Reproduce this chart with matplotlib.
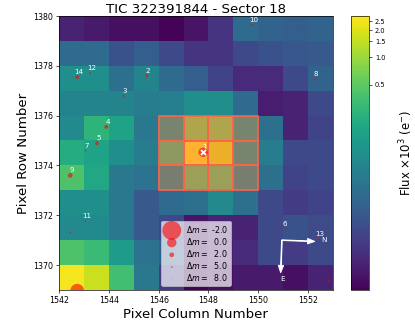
import numpy as np
import matplotlib
matplotlib.use("Agg")
import matplotlib.pyplot as plt
from matplotlib.colors import FuncNorm
from matplotlib.patches import Rectangle

# pixel flux (x10^3 e-), rows 1379 (top) .. 1369 (bottom), columns 1542 .. 1552
flux = np.array([
    [0.0028, 0.0018, 0.0009, 0.0009, 0.0002, 0.0012, 0.0052, 0.0291, 0.0231, 0.0198, 0.0231],
    [0.0291, 0.0291, 0.0132, 0.0198, 0.0102, 0.0052, 0.0052, 0.0102, 0.0132, 0.0156, 0.0169],
    [0.0873, 0.0873, 0.0339, 0.0610, 0.0291, 0.0198, 0.0085, 0.0037, 0.0037, 0.0102, 0.0231],
    [0.0610, 0.0610, 0.0610, 0.0490, 0.0527, 0.0873, 0.0873, 0.0291, 0.0021, 0.0028, 0.0102],
    [0.0756, 0.2510, 0.1540, 0.0423, 0.1250, 0.7130, 0.7130, 0.1250, 0.0339, 0.0028, 0.0085],
    [0.2040, 0.1540, 0.0873, 0.0490, 0.3540, 2.8500, 2.0100, 0.1250, 0.0490, 0.0102, 0.0102],
    [0.4090, 0.1770, 0.0423, 0.0365, 0.0873, 0.5040, 0.5040, 0.0873, 0.0339, 0.0085, 0.0102],
    [0.0873, 0.0873, 0.0423, 0.0169, 0.0291, 0.0339, 0.0704, 0.0339, 0.0102, 0.0070, 0.0085],
    [0.0756, 0.0756, 0.0423, 0.0169, 0.0102, 0.0012, 0.0028, 0.0028, 0.0102, 0.0132, 0.0111],
    [0.4090, 0.3100, 0.1250, 0.0365, 0.0198, 0.0007, 0.0021, 0.0037, 0.0102, 0.0070, 0.0102],
    [2.6000, 1.6360, 0.3540, 0.0423, 0.0070, 0.0002, 0.0007, 0.0018, 0.0018, 0.0009, 0.0028],
])
col_min, col_max = 1542, 1553
row_min, row_max = 1369, 1380

# aperture pixels
ap_cols = [1546, 1547, 1548, 1549]
ap_rows = [1373, 1374, 1375]

# Gaia sources: position, magnitude difference to target, label
star_col = [1547.79, 1545.52, 1544.58, 1543.89, 1543.52, 1551.03, 1543.05, 1552.28, 1542.44,
            1549.77, 1543.05, 1543.24, 1552.44, 1542.72, 1542.44, 1551.59, 1552.84, 1542.72]
star_row = [1374.53, 1377.60, 1376.80, 1375.55, 1374.89, 1371.45, 1374.59, 1377.46, 1373.60,
            1379.65, 1371.77, 1377.70, 1371.05, 1377.55, 1371.30, 1379.51, 1369.37, 1368.97]
star_dm = [0.0, 3.2, 4.0, 2.5, 2.7, 4.5, 5.0, 4.5, 2.0,
           4.5, 5.0, 4.5, 5.0, 2.5, 4.5, 5.0, 5.0, -1.1]
star_label = ['1', '2', '3', '4', '5', '6', '7', '8', '9',
              '10', '11', '12', '13', '14', '', '', '', '']

legend_dm = [-2.0, 0.0, 2.0, 5.0, 8.0]
cbar_ticks = [0.5, 1.0, 1.5, 2.0, 2.5]
x_ticks = [1542, 1544, 1546, 1548, 1550, 1552]
y_ticks = [1370, 1372, 1374, 1376, 1378, 1380]

vmax = 2.85
norm = FuncNorm((lambda v: np.log10(1000 * v / vmax + 1),
                 lambda y: (10 ** y - 1) * vmax / 1000), vmin=0, vmax=vmax)

fig = plt.figure(figsize=(415 / 60, 330 / 60), dpi=60)
ax = fig.add_axes([59.3 / 415, 40 / 330, 273.3 / 415, 274 / 330])
cax = fig.add_axes([351 / 415, 40 / 330, 18 / 415, 274 / 330])

im = ax.imshow(flux, cmap='viridis', norm=norm, origin='upper', aspect='auto',
               extent=[col_min, col_max, row_min, row_max], interpolation='nearest')

for c in ap_cols:
    for r in ap_rows:
        ax.add_patch(Rectangle((c, r), 1, 1, color='tomato', fill=True, alpha=0.4, lw=0))
        ax.add_patch(Rectangle((c, r), 1, 1, edgecolor='tomato', fill=False, lw=2))

sizes = [128.0 / 2 ** dm for dm in star_dm]
ax.scatter(star_col, star_row, s=sizes, c='red', alpha=0.6, edgecolors='none', zorder=10)
ax.scatter(star_col[0], star_row[0], marker='x', c='white', s=36, linewidths=2.2, zorder=12)
for x, y, lab in zip(star_col, star_row, star_label):
    ax.text(x + 0.05, y + 0.08, lab, color='white', fontsize=8.5, ha='center', va='bottom', zorder=9)

# compass
ox, oy = 1550.96, 1371.0
ax.arrow(ox, oy, 1.33, -0.05, color='white', width=0.03, head_width=0.22, head_length=0.3,
         length_includes_head=True, zorder=11)
ax.arrow(ox, oy, -0.05, -1.31, color='white', width=0.03, head_width=0.22, head_length=0.3,
         length_includes_head=True, zorder=11)
ax.text(ox + 1.7, oy, 'N', color='white', fontsize=8.5, ha='center', va='center', zorder=11)
ax.text(ox + 0.03, oy - 1.55, 'E', color='white', fontsize=8.5, ha='center', va='center', zorder=11)

for dm in legend_dm:
    ax.scatter([], [], s=128.0 / 2 ** dm, c='red', alpha=0.6, edgecolors='none',
               label=r'$\Delta m=$ ' + f'{dm:4.1f}')
ax.legend(loc='lower center', fancybox=True, framealpha=0.7, fontsize=9.5,
          labelspacing=0.15, borderpad=0.35)

ax.set_xlim(col_min, col_max)
ax.set_ylim(row_min, row_max)
ax.set_xticks(x_ticks)
ax.set_yticks(y_ticks)
ax.tick_params(labelsize=9.5)
ax.set_xlabel('Pixel Column Number', fontsize=16)
ax.set_ylabel('Pixel Row Number', fontsize=16)
ax.set_title('TIC 322391844 - Sector 18', fontsize=16, pad=4)

cb = fig.colorbar(im, cax=cax)
cb.set_ticks(cbar_ticks)
cb.set_ticklabels([f'{t:.1f}' for t in cbar_ticks])
cb.ax.tick_params(labelsize=8)
cb.set_label(r'Flux $\times10^3$ (e$^{-}$)', fontsize=14, labelpad=14)

fig.savefig('out.png', dpi=60)
